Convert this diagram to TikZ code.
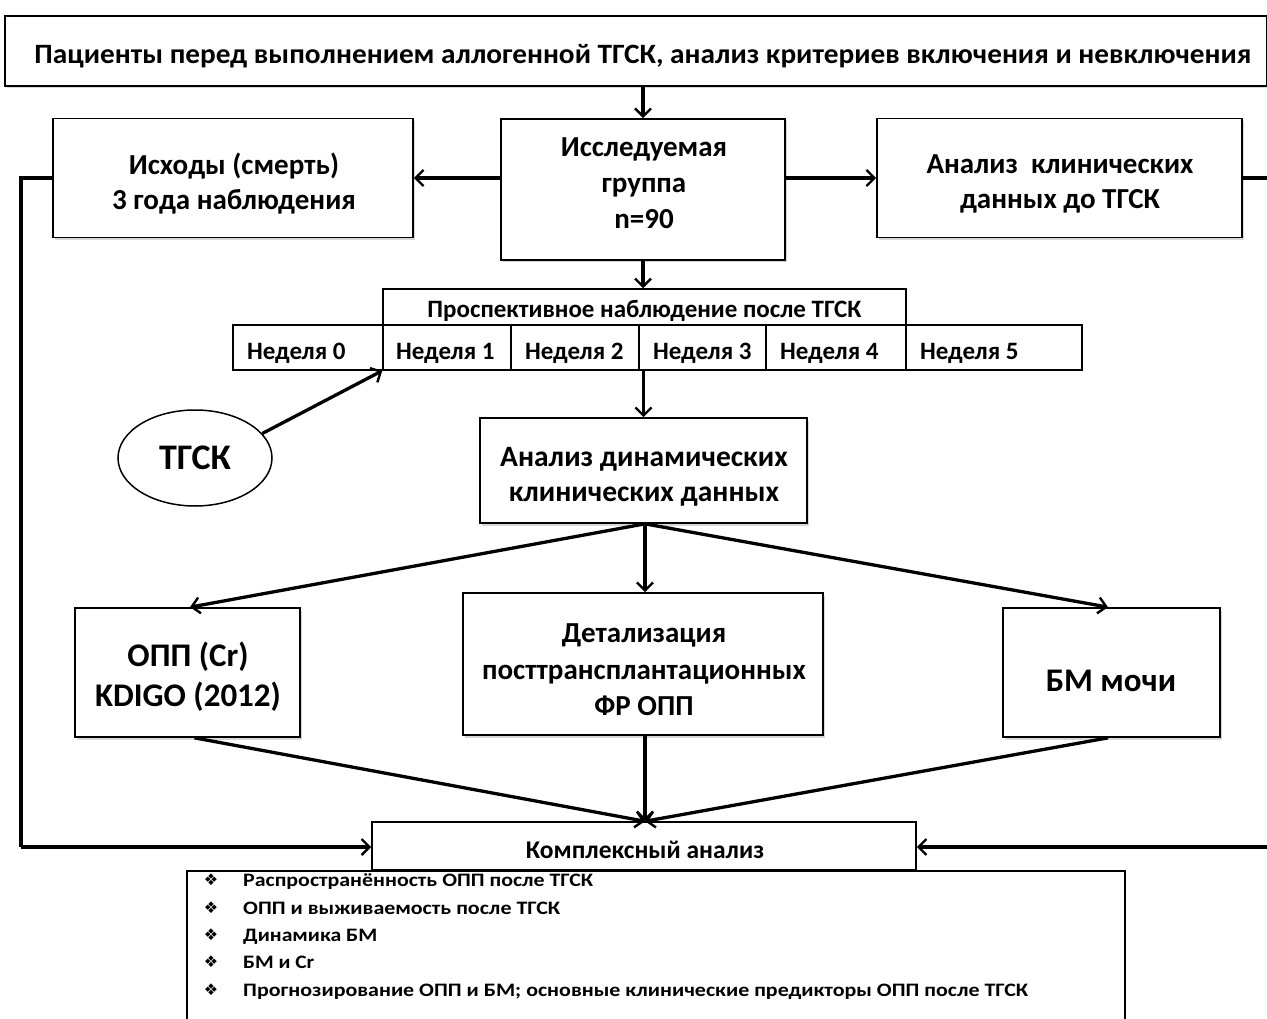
\documentclass[tikz,border=0pt]{standalone}
\usepackage{fontspec}
\setmainfont{Carlito}
\newfontfamily\djv{DejaVu Sans}
\usetikzlibrary{arrows.meta,shapes.geometric,shadows,calc}
\begin{document}
\begin{tikzpicture}[x=1pt,y=-1pt,
  box/.style={draw, line width=1.7pt, fill=white,
    drop shadow={opacity=0.3,shadow xshift=2pt,shadow yshift=-2.5pt},
    inner sep=0pt},
  pbox/.style={draw, line width=1.5pt, fill=white, inner sep=0pt},
  txt/.style={inner sep=0pt, align=center},
  cell/.style={pbox, minimum height=45},
  wk/.style={inner sep=0pt, anchor=west, font=\bfseries\fontsize{25}{28}\selectfont},
  arr/.style={line width=3.3pt, -{Straight Barb[length=8pt,width=16pt,line width=2.4pt]}},
  plain/.style={line width=3.3pt},
  fs/.style 2 args={font=\bfseries\fontsize{#1}{#2}\selectfont}]
\useasboundingbox (0,0) rectangle (1267,1019);
\clip (0,0) rectangle (1267,1019);
\fill[white] (0,0) rectangle (1267,1019);

% top box
\node[box, minimum width=1262, minimum height=70] (top) at (636,51) {};
\node[txt] (topt) at (643,56)
  {\resizebox{1217pt}{\height}{\fontsize{28}{32}\selectfont\bfseries Пациенты перед выполнением аллогенной ТГСК, анализ критериев включения и невключения}};

% second row
\node[box, minimum width=360, minimum height=119] (out) at (233,178) {};
\node[txt, fs={29}{35}] (outt) at (234,184) {Исходы (смерть)\\3 года наблюдения};
\node[box, minimum width=284, minimum height=141] (grp) at (643,189.5) {};
\node[txt, fs={29}{36}] (grpt) at (644,183) {Исследуемая\\группа\\n=90};
\node[box, minimum width=365, minimum height=119] (cli) at (1059.5,178) {};
\node[txt, fs={29}{35}] (clit) at (1060,184) {Анализ\ \ клинических\\данных до ТГСК};

% prospective observation
\node[pbox, minimum width=523, minimum height=36] (hdr) at (644.5,307) {};
\node[txt, fs={25}{28}] (hdrt) at (644.5,310.5) {Проспективное наблюдение после ТГСК};
\node[cell, minimum width=150] (w0) at (308,347.5) {};
\node[cell, minimum width=128] (w1) at (447,347.5) {};
\node[cell, minimum width=128] (w2) at (575,347.5) {};
\node[cell, minimum width=127] (w3) at (702.5,347.5) {};
\node[cell, minimum width=140] (w4) at (836,347.5) {};
\node[cell, minimum width=176] (w5) at (994,347.5) {};
\foreach \i/\xx in {0/247,1/396,2/525,3/653,4/780,5/920}{
  \node[wk] (l\i) at (\xx,353.5) {Неделя \i};
}

% TGSK ellipse
\node[ellipse, draw, line width=1.5pt, fill=white, minimum width=154, minimum height=96,
  inner sep=0pt, fs={36}{40}] (tg) at (195,458) {ТГСК};

% dynamic analysis
\node[box, minimum width=327, minimum height=105] (dyn) at (643.5,470.5) {};
\node[txt, fs={29.5}{35}] (dynt) at (644,477) {Анализ динамических\\клинических данных};

% third row
\node[box, minimum width=225, minimum height=129] (opp) at (187.5,672.5) {};
\node[txt, fs={33}{40}] (oppt) at (188,677) {ОПП (Cr)\\KDIGO (2012)};
\node[box, minimum width=360, minimum height=142] (det) at (643,664) {};
\node[txt, fs={29}{36.5}] (dett) at (644,670) {Детализация\\посттрансплантационных\\ФР ОПП};
\node[box, minimum width=217, minimum height=129] (bm) at (1111.5,672.5) {};
\node[txt, fs={33}{36}] (bmt) at (1111,681) {БМ мочи};

% complex analysis
\node[pbox, minimum width=544, minimum height=48] (kom) at (644,846) {};
\node[txt, fs={25.5}{28}] (komt) at (645,849.5) {Комплексный анализ};
\node[pbox, minimum width=938, minimum height=160, anchor=north] (lst) at (656,870) {};

\foreach \i/\yy/\w/\t in {1/886/350/{Распространённость ОПП после ТГСК},
  2/914/317/{ОПП и выживаемость после ТГСК},
  3/941/134/{Динамика БМ},
  4/968/71/{БМ и Cr},
  5/996/785/{Прогнозирование ОПП и БМ; основные клинические предикторы ОПП после ТГСК}}{
  \node[anchor=base, inner sep=0pt, font=\djv\fontsize{16}{18}\selectfont] (b\i) at (211,\yy-1) {❖};
  \node[anchor=base west, inner sep=0pt] (it\i) at (243,\yy)
    {\resizebox{\w pt}{\height}{\fontsize{19}{21}\selectfont\bfseries \t}};
}

% connectors
\draw[arr] (top.south -| grp.north) -- (grp.north);
\draw[arr] (grp.west |- out.east) -- (out.east);
\draw[arr] (grp.east |- cli.west) -- (cli.west);
\draw[arr] (grp.south) -- (hdr.north -| grp.south);
\draw[arr] (w3.south -| dyn.north) -- (dyn.north);
\draw[arr] (tg.20) -- (w1.south west);
\coordinate (dsrc) at ($(dyn.south)+(1.5,0)$);
\draw[arr] (dsrc) -- ($(opp.north)+(2.5,0)$);
\draw[arr] (dsrc) -- (det.north -| dsrc);
\draw[arr] (dsrc) -- ($(bm.north)+(-3.5,0)$);
\coordinate (ktop) at ($(kom.north)+(1,0)$);
\draw[arr] ($(opp.south)+(7,0)$) -- (ktop);
\draw[arr] (det.south -| ktop) -- (ktop);
\draw[arr] ($(bm.south)+(-3.5,0)$) -- (ktop);
\coordinate (lc1) at (21,178);
\coordinate (lc2) at (21,847);
\draw[plain] (out.west) -- (lc1) -- (lc2);
\draw[arr] (lc2) -- (kom.west |- lc2);
\coordinate (rc1) at (1290,178);
\coordinate (rc2) at (1290,847);
\draw[plain] (cli.east) -- (rc1) -- (rc2);
\draw[arr] (rc2) -- (kom.east |- rc2);
\end{tikzpicture}
\end{document}
